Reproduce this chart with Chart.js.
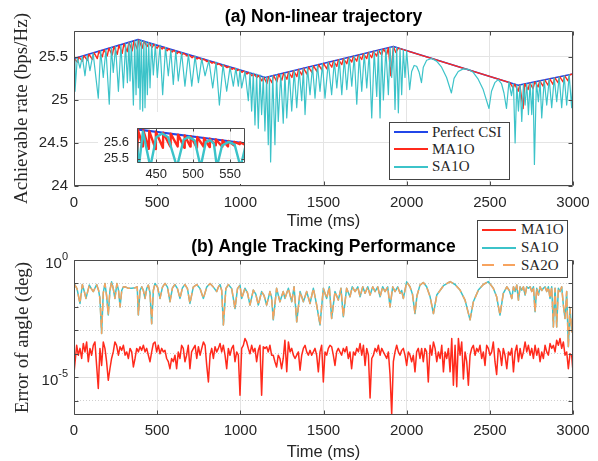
<!DOCTYPE html>
<html><head><meta charset="utf-8">
<script src="https://cdn.jsdelivr.net/npm/chart.js@4.4.1/dist/chart.umd.min.js"></script>
<style>
html,body{margin:0;padding:0;background:#fff;}
#wrap{position:relative;width:598px;height:461px;overflow:hidden;background:#fff;}
canvas{position:absolute;}
#cTop{left:0;top:0;}
#cBot{left:0;top:232px;}
#cIn{left:98px;top:112px;background:#fff;}
.legend{position:absolute;background:#fff;border:1px solid #444;box-sizing:border-box;font-family:'Liberation Serif','Times New Roman',serif;font-size:15px;color:#262626;}
.legend .row{position:absolute;left:0;right:0;height:17px;line-height:17px;white-space:nowrap;}
.legend .sw{position:absolute;top:7.5px;height:2px;}
.legend .tx{position:absolute;top:0;}
</style>
</head><body>
<div id="wrap">
<canvas id="cTop" width="598" height="232"></canvas>
<canvas id="cBot" width="598" height="229"></canvas>
<canvas id="cIn" width="150" height="72"></canvas>
<div id="legTop" class="legend" style="left:389px;top:122px;width:121px;height:58px;"></div>
<div id="legBot" class="legend" style="left:477px;top:220px;width:91px;height:58px;"></div>
</div>
<script>
// ---------- tick labels ----------
const timeTicks = [0, 500, 1000, 1500, 2000, 2500, 3000];
const rateTicks = [24, 24.5, 25, 25.5];
const insetTimeTicks = [450, 500, 550];
const insetRateTicks = [25.5, 25.6];
const errDecades = [1e-6, 1e-5, 1e-4, 1e-3, 1e-2, 1e-1, 1];
const errTickText = ['', '10\u207B\u2075', '', '', '', '', '10\u2070'];
const errTickBase = ['', '10', '', '', '', '', '10'];
const errTickExp = ['', '-5', '', '', '', '', '0'];

// ---------- (a) achievable rate: [time ms, rate] ----------
const perfectCsiRate = [[0,25.48],[385,25.70],[1150,25.26],[1920,25.62],[2670,25.17],[3000,25.30]];

const ma1oRate = [[0,25.48],[20,25.44],[30,25.497],[50,25.45],[60,25.514],[80,25.46],[90,25.531],[110,25.47],[120,25.549],[140,25.48],
[150,25.566],[170,25.50],[180,25.583],[200,25.51],[210,25.60],[230,25.52],[240,25.617],[260,25.53],[270,25.634],[290,25.54],
[300,25.651],[320,25.56],[330,25.668],[350,25.57],[360,25.686],[380,25.59],[390,25.697],[410,25.60],[420,25.68],[440,25.62],
[450,25.663],[470,25.61],[480,25.645],[500,25.60],[510,25.628],[530,25.59],[540,25.611],[560,25.57],[570,25.594],[590,25.555],
[600,25.576],[620,25.54],[630,25.559],[650,25.525],[660,25.542],[680,25.51],[690,25.525],[710,25.49],[720,25.507],[740,25.475],
[750,25.49],[770,25.46],[780,25.473],[800,25.445],[810,25.456],[830,25.425],[840,25.438],[860,25.41],[870,25.421],[890,25.39],
[900,25.404],[920,25.375],[930,25.387],[950,25.355],[960,25.369],[980,25.34],[990,25.352],[1010,25.32],[1020,25.335],[1040,25.30],
[1050,25.318],[1070,25.28],[1080,25.30],[1100,25.26],[1110,25.283],[1130,25.22],[1140,25.266],[1160,25.19],[1170,25.269],[1190,25.20],
[1200,25.283],[1220,25.21],[1230,25.297],[1250,25.23],[1260,25.311],[1280,25.24],[1290,25.326],[1310,25.26],[1320,25.34],[1340,25.27],
[1350,25.354],[1370,25.29],[1380,25.368],[1400,25.30],[1410,25.382],[1430,25.32],[1440,25.396],[1460,25.33],[1470,25.41],[1490,25.35],
[1500,25.424],[1520,25.36],[1530,25.438],[1550,25.38],[1560,25.452],[1580,25.39],[1590,25.466],[1610,25.41],[1620,25.48],[1640,25.42],
[1650,25.494],[1670,25.44],[1680,25.508],[1700,25.45],[1710,25.522],[1730,25.47],[1740,25.536],[1760,25.48],[1770,25.55],[1790,25.49],
[1800,25.564],[1820,25.51],[1830,25.578],[1850,25.52],[1860,25.592],[1880,25.53],[1890,25.606],[1905,25.28],[1920,25.62],[1935,25.55],
[1950,25.602],[2620,25.20],[2640,25.14],[2650,25.182],[2670,25.10],[2680,25.174],[2700,24.90],[2710,25.186],[2730,25.12],[2740,25.198],
[2760,25.13],[2770,25.209],[2790,25.15],[2800,25.221],[2820,25.16],[2830,25.233],[2850,25.17],[2860,25.245],[2880,25.18],[2890,25.257],
[2910,25.20],[2920,25.269],[2940,25.21],[2950,25.28],[2970,25.22],[2980,25.292],[3000,25.30]];

const sa1oRate = [[0,25.46],[6,25.10],[20,25.49],[36,25.37],[50,25.505],[66,25.28],[80,25.52],[96,25.34],[115,25.54],[146,25.02],
[160,25.57],[176,25.26],[192,25.585],[212,24.95],[225,25.61],[236,25.32],[250,25.62],[267,25.10],[282,25.635],[297,25.14],
[310,25.65],[321,25.20],[330,25.665],[337,25.22],[345,25.675],[357,24.94],[365,25.685],[373,25.06],[380,25.695],[387,25.14],
[392,25.69],[397,24.89],[405,25.69],[413,24.87],[420,25.68],[427,24.91],[434,25.675],[441,25.06],[449,25.665],[457,25.14],
[467,25.655],[477,25.29],[489,25.645],[501,25.26],[517,25.635],[533,25.06],[550,25.61],[567,25.28],[582,25.58],[597,25.18],
[612,25.57],[627,25.22],[647,25.55],[667,25.16],[688,25.53],[708,25.16],[728,25.51],[748,25.20],[768,25.48],[788,25.28],
[811,25.46],[834,25.14],[854,25.44],[874,24.94],[896,25.41],[918,25.10],[938,25.38],[958,25.16],[973,25.37],[988,25.16],
[998,25.35],[1008,25.14],[1028,25.33],[1048,24.99],[1058,25.32],[1068,24.87],[1078,25.31],[1088,24.71],[1098,25.30],[1108,24.67],
[1118,25.29],[1128,24.83],[1138,25.27],[1148,24.64],[1158,25.265],[1168,24.48],[1175,25.27],[1182,24.28],[1195,25.28],[1208,24.48],
[1218,25.29],[1228,24.75],[1243,25.30],[1258,24.73],[1268,25.31],[1279,24.79],[1294,25.325],[1309,24.87],[1324,25.34],[1339,24.91],
[1354,25.35],[1369,24.99],[1379,25.36],[1389,24.83],[1404,25.375],[1419,25.06],[1434,25.39],[1449,25.02],[1464,25.405],[1479,25.10],
[1494,25.42],[1509,25.02],[1529,25.435],[1549,25.06],[1565,25.45],[1580,25.14],[1595,25.465],[1610,25.06],[1625,25.48],[1640,25.12],
[1655,25.495],[1670,25.16],[1685,25.51],[1700,24.95],[1715,25.52],[1730,25.10],[1745,25.535],[1760,25.14],[1775,25.55],[1790,24.79],
[1805,25.565],[1820,25.04],[1830,25.575],[1840,24.79],[1850,25.585],[1860,25.00],[1875,25.595],[1890,25.06],[1900,25.61],[1910,25.26],
[1920,25.62],[1930,24.89],[1940,25.61],[1950,24.85],[1960,25.595],[1970,25.06],[1980,25.58],[1990,25.26],[2000,25.57],[2018,25.12],
[2030,25.33],[2045,25.40],[2060,25.39],[2075,25.32],[2089,25.20],[2100,25.38],[2120,25.46],[2150,25.48],[2180,25.45],[2210,25.38],
[2240,25.26],[2269,25.08],[2285,25.25],[2310,25.33],[2340,25.36],[2370,25.355],[2400,25.32],[2430,25.24],[2460,25.12],[2495,24.90],
[2510,25.10],[2530,25.20],[2550,25.235],[2570,25.19],[2585,25.08],[2600,24.90],[2615,25.21],[2630,25.05],[2642,25.185],[2652,24.50],
[2662,25.175],[2672,24.87],[2682,25.175],[2692,24.75],[2702,25.18],[2712,24.94],[2722,25.19],[2732,24.83],[2742,25.195],[2752,24.83],
[2760,25.20],[2768,24.25],[2780,25.21],[2792,24.98],[2802,25.22],[2812,24.79],[2827,25.23],[2842,24.94],[2857,25.24],[2872,24.91],
[2887,25.255],[2902,24.98],[2917,25.265],[2932,24.91],[2947,25.28],[2962,24.94],[2977,25.29],[2992,24.91],[3000,25.30]];

// ---------- inset (zoom of 424..570 ms) ----------
const insetMa1oRate = [[424,25.53],[425,25.677],[432,25.574],[432.5,25.673],[440,25.56],[440.5,25.668],[449,25.559],[449.5,25.663],
[459,25.566],[459.5,25.657],[469,25.574],[469.5,25.652],[479,25.574],[479.5,25.646],[488,25.566],[488.5,25.641],[496,25.574],[496.5,25.636],
[505,25.566],[505.5,25.631],[514,25.574],[514.5,25.626],[522,25.571],[522.5,25.621],[530,25.581],[530.5,25.617],[539,25.574],[539.5,25.612],
[547,25.574],[547.5,25.607],[555,25.581],[555.5,25.602],[563,25.588],[563.5,25.598],[570,25.585]];
const insetSa1oRate = [[424,25.60],[426.5,25.45],[432,25.665],[442,25.45],[450,25.63],[458,25.652],[466,25.63],[478,25.45],[487,25.615],
[494,25.632],[502,25.61],[510,25.45],[517,25.60],[523,25.612],[528,25.59],[532,25.45],[539,25.58],[548,25.602],[556,25.585],[564,25.45],[570,25.565]];

// ---------- (b) angle error: [time ms, error deg] ----------
const ma1oErr = [[0,1.5e-5],[16,2.3e-4],[26,8.7e-5],[36,1.7e-4],[46,6.3e-5],[56,2.75e-4],[66,1.2e-4],[76,3.2e-4],[86,4.6e-5],[96,1.7e-4],
[106,8.7e-5],[116,2.3e-4],[126,3.2e-4],[136,3.2e-5],[146,3.3e-6],[156,1.7e-4],[166,3.2e-5],[176,3.2e-4],[186,1.7e-4],[196,4.6e-5],
[206,7.4e-6],[216,2.3e-5],[226,6.3e-5],[236,1.2e-4],[246,3.2e-4],[256,2.3e-4],[267,8.7e-5],[277,2.0e-4],[287,1.4e-4],[297,2.3e-4],
[307,8.7e-5],[317,1.2e-4],[327,6.3e-5],[337,1.7e-4],[347,1.2e-4],[357,2.75e-5],[367,6.3e-5],[377,1.7e-4],[387,1.2e-4],[397,2.0e-4],
[407,1.4e-4],[417,2.3e-4],[427,1.2e-4],[437,1.7e-4],[447,8.7e-5],[457,4.6e-5],[467,1.2e-4],[477,2.75e-4],[487,3.2e-4],[497,1.2e-4],
[507,2.3e-4],[517,1.0e-4],[527,1.7e-4],[537,1.2e-4],[547,1.4e-4],[557,6.3e-5],[567,4.6e-5],[577,2.3e-5],[587,6.3e-5],[597,4.6e-5],
[607,8.7e-5],[617,2.3e-5],[627,1.2e-4],[637,6.3e-5],[647,2.3e-4],[657,1.7e-4],[667,4.6e-5],[677,8.7e-5],[687,2.3e-4],[697,2.3e-5],
[707,1.2e-4],[718,1.7e-4],[728,2.3e-4],[738,6.3e-5],[748,2.0e-4],[758,8.7e-5],[768,1.7e-4],[778,3.2e-4],[788,2.3e-4],[798,3.2e-5],
[808,6.3e-6],[818,8.7e-5],[828,1.7e-4],[838,6.3e-5],[848,2.0e-4],[858,1.2e-4],[868,1.7e-4],[878,2.75e-4],[888,1.2e-4],[898,2.3e-4],
[908,8.7e-5],[918,2.3e-5],[928,1.7e-4],[938,8.7e-5],[948,1.7e-4],[958,2.3e-4],[968,4.6e-5],[978,1.2e-4],[988,8.7e-5],[998,1.7e-6],
[1008,1.7e-4],[1018,2.3e-4],[1028,4.5e-4],[1038,3.2e-4],[1048,1.7e-4],[1058,1.0e-4],[1068,2.3e-4],[1078,1.2e-4],[1088,1.7e-4],[1098,4.6e-5],
[1108,1.4e-4],[1118,2.3e-4],[1128,1.7e-6],[1138,2.0e-4],[1148,1.7e-4],[1158,2.0e-4],[1168,1.2e-4],[1178,2.3e-4],[1188,8.7e-5],[1198,8.7e-5],
[1208,4.6e-5],[1218,2.75e-5],[1228,8.7e-5],[1238,6.3e-5],[1248,2.3e-5],[1258,6.3e-5],[1268,3.8e-4],[1279,1.7e-5],[1289,3.2e-4],[1299,1.2e-4],
[1309,1.7e-4],[1319,8.7e-5],[1329,6.3e-5],[1339,8.7e-5],[1349,1.2e-4],[1359,2.0e-5],[1369,8.7e-5],[1379,1.7e-4],[1389,2.3e-4],[1399,1.2e-4],
[1409,8.7e-5],[1419,1.4e-4],[1429,8.7e-5],[1439,1.2e-4],[1449,1.7e-4],[1459,8.7e-5],[1469,1.7e-5],[1479,1.2e-4],[1489,2.3e-4],[1499,6.3e-6],
[1509,1.2e-4],[1519,8.7e-5],[1529,1.7e-4],[1539,2.3e-4],[1549,2.0e-4],[1559,8.7e-5],[1569,3.2e-5],[1579,1.2e-4],[1589,1.7e-4],[1599,1.2e-4],
[1609,8.7e-5],[1619,1.7e-4],[1629,1.2e-4],[1639,2.0e-4],[1649,6.3e-5],[1659,1.2e-4],[1669,2.3e-5],[1680,1.2e-4],[1690,8.7e-5],[1700,1.7e-4],
[1710,1.2e-4],[1720,2.75e-4],[1730,8.7e-5],[1740,2.3e-4],[1750,3.2e-5],[1760,1.7e-4],[1770,8.7e-5],[1780,1.3e-6],[1790,6.3e-5],[1800,8.7e-5],
[1810,1.7e-4],[1820,1.2e-4],[1830,2.3e-4],[1840,8.7e-5],[1850,1.7e-4],[1860,1.2e-4],[1870,8.7e-5],[1880,6.3e-5],[1890,1.2e-4],[1900,1.3e-5],
[1910,2.6e-7],[1920,4.6e-5],[1930,1.2e-4],[1940,2.3e-4],[1950,1.2e-4],[1960,8.7e-5],[1970,1.4e-4],[1980,1.7e-4],[1990,8.7e-5],[2000,3.2e-5],
[2010,1.2e-4],[2020,8.7e-5],[2030,4.6e-5],[2040,8.7e-5],[2050,1.7e-5],[2060,1.2e-4],[2070,1.7e-4],[2080,6.3e-5],[2090,1.7e-4],[2100,4.6e-5],
[2110,1.7e-4],[2120,1.2e-4],[2130,6.3e-6],[2141,2.3e-4],[2151,8.7e-5],[2161,3.2e-4],[2171,1.7e-4],[2181,4.6e-5],[2191,1.2e-4],[2201,6.3e-5],
[2211,2.3e-4],[2221,1.7e-5],[2231,1.2e-4],[2241,6.3e-5],[2251,1.7e-4],[2261,1.7e-5],[2271,4.5e-4],[2281,4.6e-6],[2291,2.3e-4],[2301,3.9e-6],
[2311,4.5e-4],[2321,8.7e-5],[2331,3.2e-4],[2341,8.5e-6],[2351,1.2e-4],[2361,4.6e-5],[2371,4.6e-6],[2381,8.7e-5],[2391,1.7e-4],[2401,2.3e-4],
[2411,8.7e-5],[2421,1.7e-4],[2431,1.2e-4],[2441,2.3e-4],[2451,6.3e-5],[2461,1.2e-4],[2471,3.2e-5],[2481,2.3e-4],[2491,1.7e-4],[2501,8.7e-5],
[2511,1.2e-4],[2521,3.2e-4],[2531,4.6e-5],[2541,1.3e-5],[2551,1.7e-4],[2561,1.2e-4],[2571,3.2e-5],[2581,1.7e-4],[2591,8.7e-5],[2602,2.3e-5],
[2612,1.2e-4],[2622,8.7e-5],[2632,1.7e-4],[2642,1.7e-5],[2652,1.2e-4],[2662,2.3e-4],[2672,4.6e-5],[2682,1.7e-4],[2692,6.3e-5],[2702,1.2e-4],
[2712,3.2e-4],[2722,1.2e-4],[2732,2.3e-4],[2742,8.7e-5],[2752,1.7e-4],[2762,6.3e-5],[2772,2.3e-4],[2782,8.7e-5],[2792,1.7e-4],[2802,4.6e-5],
[2812,1.2e-4],[2822,6.3e-5],[2832,2.3e-4],[2842,1.2e-4],[2852,8.7e-5],[2862,2.75e-4],[2872,1.7e-4],[2882,2.3e-4],[2892,1.2e-4],[2902,3.8e-4],
[2912,2.3e-4],[2922,4.5e-4],[2932,1.7e-4],[2942,3.2e-4],[2952,8.7e-5],[2962,1.2e-4],[2972,2.3e-5],[2982,1.0e-4],[2992,8.7e-5],[3000,1.7e-5]];

const sa1oErr = [[0,0.1],[18,0.06],[36,0.014],[50,0.09],[62,0.045],[72,0.023],[92,0.085],[104,0.06],[116,0.045],[136,0.09],
[148,0.05],[156,0.023],[166,0.00074],[176,0.04],[186,0.1],[196,0.03],[206,0.0045],[216,0.05],[226,0.117],[236,0.06],
[246,0.023],[258,0.1],[268,0.05],[277,0.01],[287,0.05],[297,0.072],[312,0.07],[327,0.062],[347,0.062],[367,0.065],
[380,0.072],[387,0.0045],[397,0.05],[407,0.072],[417,0.05],[427,0.023],[437,0.06],[447,0.085],[457,0.04],[467,0.0019],
[477,0.05],[487,0.1],[502,0.07],[517,0.023],[532,0.07],[547,0.1],[562,0.07],[577,0.0166],[592,0.065],[607,0.09],
[622,0.06],[637,0.023],[652,0.065],[667,0.09],[682,0.06],[697,0.014],[717,0.07],[738,0.09],[758,0.06],[778,0.023],
[798,0.07],[818,0.1],[838,0.07],[858,0.045],[868,0.07],[878,0.09],[888,0.05],[898,0.0017],[913,0.06],[928,0.09],
[948,0.06],[968,0.0085],[983,0.06],[998,0.085],[1008,0.023],[1028,0.062],[1043,0.04],[1058,0.012],[1078,0.052],[1093,0.035],
[1108,0.012],[1128,0.045],[1143,0.03],[1158,0.012],[1178,0.045],[1188,0.025],[1198,0.0028],[1218,0.062],[1238,0.0166],[1258,0.045],
[1268,0.023],[1289,0.062],[1309,0.0166],[1323,0.072],[1339,0.0023],[1359,0.045],[1379,0.0166],[1399,0.045],[1419,0.014],[1439,0.062],
[1459,0.012],[1479,0.0017],[1499,0.062],[1519,0.023],[1535,0.072],[1549,0.0032],[1569,0.045],[1589,0.0195],[1605,0.062],[1619,0.0038],
[1639,0.062],[1659,0.027],[1673,0.072],[1690,0.045],[1706,0.072],[1720,0.027],[1736,0.072],[1750,0.038],[1766,0.072],[1780,0.032],
[1796,0.072],[1810,0.045],[1826,0.072],[1840,0.027],[1856,0.072],[1870,0.045],[1886,0.072],[1900,0.01],[1916,0.072],[1930,0.045],
[1946,0.072],[1960,0.038],[1970,0.05],[1980,0.023],[2000,0.117],[2020,0.072],[2035,0.035],[2050,0.0052],[2062,0.03],[2080,0.085],
[2100,0.11],[2120,0.072],[2141,0.027],[2161,0.0052],[2181,0.032],[2221,0.08],[2261,0.12],[2291,0.09],[2321,0.052],[2351,0.0195],
[2381,0.0028],[2401,0.0166],[2431,0.052],[2461,0.09],[2491,0.12],[2521,0.062],[2541,0.027],[2561,0.0045],[2581,0.038],[2602,0.072],
[2617,0.05],[2632,0.023],[2642,0.072],[2652,0.045],[2662,0.085],[2672,0.0195],[2682,0.072],[2692,0.052],[2702,0.072],[2712,0.032],
[2722,0.072],[2732,0.062],[2742,0.072],[2752,0.045],[2762,0.072],[2772,0.0062],[2782,0.062],[2792,0.032],[2802,0.072],[2812,0.05],
[2822,0.062],[2832,0.072],[2842,0.045],[2852,0.072],[2862,0.023],[2872,0.072],[2882,0.0014],[2892,0.062],[2902,0.0014],[2912,0.062],
[2922,0.045],[2932,0.072],[2942,0.012],[2952,0.0032],[2962,0.045],[2972,0.0002],[2982,0.0085],[2992,0.00087],[3000,0.0045]];

// SA2O overlaps SA1O in the figure (dashed curve drawn on top of it)
const sa2oErr = sa1oErr;

// ---------- styling ----------
const SANS = "'Liberation Sans', Arial, Helvetica, sans-serif";
const SERIF = "'Liberation Serif', 'Times New Roman', serif";
const C_BLUE = '#2146e8', C_RED = '#ff2a1c', C_CYAN = '#3cc3c9', C_ORANGE = '#f7a35e';
const AX = '#262626';

const toXY = arr => arr.map(p => ({x: p[0], y: p[1]}));

const framePlugin = {
  id: 'frame',
  afterDatasetsDraw(chart, args, opts) {
    const {ctx, chartArea: a, scales} = chart;
    const L = Math.round(a.left) + 0.5, R = Math.round(a.right) - 0.5;
    const T = Math.round(a.top) + 0.5, B = Math.round(a.bottom) - 0.5;
    const len = opts.tick || 4;
    ctx.save();
    ctx.strokeStyle = opts.color || '#4a4a4a';
    ctx.lineWidth = 1;
    ctx.beginPath();
    ctx.rect(L, T, R - L, B - T);
    scales.x.ticks.forEach(t => {
      const p = Math.round(scales.x.getPixelForValue(t.value)) + 0.5;
      ctx.moveTo(p, B); ctx.lineTo(p, B - len);
      ctx.moveTo(p, T); ctx.lineTo(p, T + len);
    });
    scales.y.ticks.forEach(t => {
      const p = Math.round(scales.y.getPixelForValue(t.value)) + 0.5;
      ctx.moveTo(L, p); ctx.lineTo(L + len, p);
      ctx.moveTo(R, p); ctx.lineTo(R - len, p);
    });
    ctx.stroke();
    ctx.restore();
  }
};

// power-of-ten tick labels with a raised exponent (like the original)
const powLabelPlugin = {
  id: 'powLabels',
  afterDraw(chart) {
    const {ctx, scales} = chart;
    const y = scales.y;
    const xEnd = chart.chartArea.left - 6;
    ctx.save();
    ctx.fillStyle = AX;
    ctx.textBaseline = 'middle';
    y.ticks.forEach((t, i) => {
      if (!errTickBase[i]) return;
      const p = y.getPixelForValue(t.value);
      ctx.font = '11px ' + SANS;
      const wExp = ctx.measureText(errTickExp[i]).width;
      ctx.textAlign = 'left';
      ctx.fillText(errTickExp[i], xEnd - wExp, p - 3);
      ctx.font = '15px ' + SANS;
      ctx.textAlign = 'right';
      ctx.fillText(errTickBase[i], xEnd - wExp, p + 3.5);
    });
    ctx.restore();
  }
};

const lineDefaults = {pointRadius: 0, borderJoinStyle: 'round', borderCapStyle: 'round', tension: 0, fill: false};

// ---------- chart (a) ----------
const chartTop = new Chart(document.getElementById('cTop'), {
  type: 'line',
  data: {datasets: [
    Object.assign({label: 'Perfect CSI', data: toXY(perfectCsiRate), borderColor: C_BLUE, borderWidth: 1.6, order: 3}, lineDefaults),
    Object.assign({label: 'MA1O', data: toXY(ma1oRate), borderColor: C_RED, borderWidth: 1.4, order: 2}, lineDefaults),
    Object.assign({label: 'SA1O', data: toXY(sa1oRate), borderColor: C_CYAN, borderWidth: 1.2, order: 1}, lineDefaults)
  ]},
  options: {
    responsive: false, animation: false, devicePixelRatio: 1,
    layout: {padding: {left: 0, right: 25, top: 0, bottom: 0}},
    plugins: {
      legend: {display: false}, tooltip: {enabled: false},
      title: {display: true, text: '(a) Non-linear trajectory', fullSize: false, color: '#000',
              font: {family: SANS, size: 17.5, weight: 'bold'}, padding: {top: 7, bottom: 3}},
      frame: {tick: 4}
    },
    scales: {
      x: {type: 'linear', min: 0, max: 3000,
          afterBuildTicks: s => { s.ticks = timeTicks.map(v => ({value: v})); },
          afterFit: s => { s.height = 46; },
          grid: {color: '#e4e4e4', drawTicks: false}, border: {display: false},
          ticks: {padding: 8, autoSkip: false, maxRotation: 0, color: AX, font: {family: SANS, size: 15}, callback: v => String(v)},
          title: {display: true, text: 'Time (ms)', color: AX, font: {family: SANS, size: 16.5, lineHeight: 1}, padding: {top: 0, bottom: 2}}},
      y: {type: 'linear', min: 24, max: 25.8,
          afterBuildTicks: s => { s.ticks = rateTicks.map(v => ({value: v})); },
          afterFit: s => { s.width = 74; },
          grid: {color: '#e4e4e4', drawTicks: false}, border: {display: false},
          ticks: {padding: 6, autoSkip: false, color: AX, font: {family: SANS, size: 15}, callback: v => String(v)},
          title: {display: true, text: 'Achievable rate (bps/Hz)', color: AX, font: {family: SERIF, size: 19}, padding: {top: 11, bottom: 0}}}
    }
  },
  plugins: [framePlugin]
});

// ---------- inset ----------
const chartIn = new Chart(document.getElementById('cIn'), {
  type: 'line',
  data: {datasets: [
    Object.assign({label: 'Perfect CSI', data: toXY(perfectCsiRate), borderColor: C_BLUE, borderWidth: 2.2, order: 3}, lineDefaults),
    Object.assign({label: 'MA1O', data: toXY(insetMa1oRate), borderColor: C_RED, borderWidth: 2.4, order: 2}, lineDefaults),
    Object.assign({label: 'SA1O', data: toXY(insetSa1oRate), borderColor: C_CYAN, borderWidth: 2.4, order: 1}, lineDefaults)
  ]},
  options: {
    responsive: false, animation: false, devicePixelRatio: 1,
    layout: {padding: {left: 0, right: 3, top: 2, bottom: 0}},
    plugins: {legend: {display: false}, tooltip: {enabled: false}, title: {display: false}, frame: {tick: 3}},
    scales: {
      x: {type: 'linear', min: 424, max: 570,
          afterBuildTicks: s => { s.ticks = insetTimeTicks.map(v => ({value: v})); },
          afterFit: s => { s.height = 21; },
          grid: {color: '#ececec', drawTicks: false}, border: {display: false},
          ticks: {padding: 4, autoSkip: false, maxRotation: 0, color: AX, font: {family: SANS, size: 13}, callback: v => String(v)}},
      y: {type: 'linear', min: 25.474, max: 25.687,
          afterBuildTicks: s => { s.ticks = insetRateTicks.map(v => ({value: v})); },
          afterFit: s => { s.width = 39; },
          grid: {color: '#ececec', drawTicks: false}, border: {display: false},
          ticks: {padding: 8, autoSkip: false, color: AX, font: {family: SANS, size: 13}, callback: v => v.toFixed(1)}}
    }
  },
  plugins: [framePlugin]
});

// ---------- chart (b) ----------
const chartBot = new Chart(document.getElementById('cBot'), {
  type: 'line',
  data: {datasets: [
    Object.assign({label: 'MA1O', data: toXY(ma1oErr), borderColor: C_RED, borderWidth: 1.5, order: 3}, lineDefaults),
    Object.assign({label: 'SA1O', data: toXY(sa1oErr), borderColor: C_CYAN, borderWidth: 1.5, order: 2}, lineDefaults),
    Object.assign({label: 'SA2O', data: toXY(sa2oErr), borderColor: C_ORANGE, borderWidth: 1.5, borderDash: [7, 5], order: 1}, lineDefaults)
  ]},
  options: {
    responsive: false, animation: false, devicePixelRatio: 1,
    layout: {padding: {left: 0, right: 25, top: 0, bottom: 0}},
    plugins: {
      legend: {display: false}, tooltip: {enabled: false},
      title: {display: true, text: '(b) Angle Tracking Performance', fullSize: false, color: '#000',
              font: {family: SANS, size: 17.5, weight: 'bold'}, padding: {top: 5, bottom: 2}},
      frame: {tick: 4}
    },
    scales: {
      x: {type: 'linear', min: 0, max: 3000,
          afterBuildTicks: s => { s.ticks = timeTicks.map(v => ({value: v})); },
          afterFit: s => { s.height = 46; },
          grid: {color: '#e4e4e4', drawTicks: false}, border: {display: false},
          ticks: {padding: 7, autoSkip: false, maxRotation: 0, color: AX, font: {family: SANS, size: 15}, callback: v => String(v)},
          title: {display: true, text: 'Time (ms)', color: AX, font: {family: SANS, size: 16.5, lineHeight: 1}, padding: {top: 0, bottom: 0}}},
      y: {type: 'logarithmic', min: 2.45e-7, max: 1,
          afterBuildTicks: s => { s.ticks = errDecades.map(v => ({value: v})); },
          afterFit: s => { s.width = 74; },
          grid: {color: ctx => (errTickText[ctx.index] ? '#e0e0e0' : '#cfcfcf'), drawTicks: false},
          border: {display: false, dash: ctx => (errTickText[ctx.index] ? [] : [1, 2])},
          ticks: {display: false, padding: 6, autoSkip: false, color: AX, font: {family: SANS, size: 15}, callback: (v, i) => errTickText[i]},
          title: {display: true, text: 'Error of angle (deg)', color: AX, font: {family: SERIF, size: 19}, padding: {top: 12, bottom: 0}}}
    }
  },
  plugins: [framePlugin, powLabelPlugin]
});

// ---------- legends (built from the datasets) ----------
function buildLegend(el, chart, rowTops, swLeft, swWidth, textLeft) {
  chart.data.datasets.slice().sort((a, b) => b.order - a.order).forEach((ds, i) => {
    const row = document.createElement('div');
    row.className = 'row';
    row.style.top = rowTops[i] + 'px';
    const sw = document.createElement('div');
    sw.className = 'sw';
    sw.style.left = swLeft + 'px';
    sw.style.width = swWidth + 'px';
    sw.style.background = ds.borderDash
      ? 'repeating-linear-gradient(to right,' + ds.borderColor + ' 0 12px, transparent 12px 21px)'
      : ds.borderColor;
    const tx = document.createElement('span');
    tx.className = 'tx';
    tx.style.left = textLeft + 'px';
    tx.textContent = ds.label;
    row.appendChild(sw); row.appendChild(tx);
    el.appendChild(row);
  });
}
buildLegend(document.getElementById('legTop'), chartTop, [0.5, 17.5, 35], 4, 34, 42);
buildLegend(document.getElementById('legBot'), chartBot, [0, 18, 35.5], 4, 34, 43);
</script>
</body></html>
